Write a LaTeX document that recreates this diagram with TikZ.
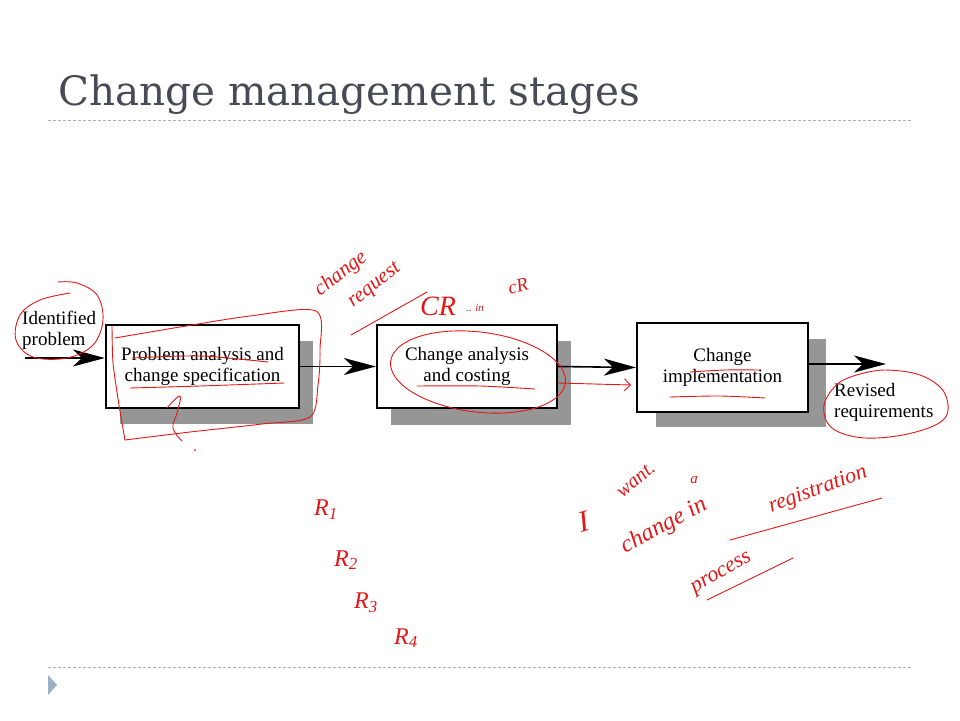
\documentclass[tikz,border=0pt]{standalone}
\usepackage{fontspec}
\setmainfont{Liberation Serif}
\newfontfamily\titlefont{DejaVu Serif}
\usetikzlibrary{arrows.meta}
\definecolor{cmtitle}{RGB}{74, 74, 86}
\definecolor{cmrule}{RGB}{160, 180, 194}
\definecolor{cmbullet}{RGB}{154, 176, 196}
\definecolor{cmshadow}{RGB}{150, 150, 150}
\definecolor{cmink}{RGB}{228, 22, 22}

\begin{document}
\begin{tikzpicture}[x=1pt, y=-1pt,
    stagebox/.style={draw=black, line width=2.2pt, fill=white, align=center,
        inner sep=0pt, font=\fontsize{19}{21}\selectfont},
    flowarrow/.style={line width=1.6pt,
        -{Stealth[length=32pt, width=17pt, inset=9pt]}},
    enditem/.style={align=left, anchor=west, inner sep=0pt,
        font=\fontsize{19}{21}\selectfont},
    ink/.style={draw=cmink, line width=0.9pt, line cap=round, line join=round},
    hand/.style={text=cmink, font=\itshape\fontsize{#1}{#1}\selectfont, inner sep=0pt},
    hand/.default=19
]
\useasboundingbox (0,0) rectangle (960,720);

% === Titel und Linien der Folie ===
\node[anchor=base west, inner sep=0pt, text=cmtitle,
    font=\titlefont\fontsize{40.5}{44}\selectfont] (title) at (58,105) {Change management stages};
\draw[cmrule, line width=0.8pt, dash pattern=on 3pt off 2pt] (48,120) -- (912,120);
\draw[cmrule, line width=0.8pt, dash pattern=on 3pt off 2pt] (48,667) -- (912,667);
\fill[cmbullet] (48,675) -- (57,685) -- (48,695) -- cycle;

% === Stufen (mit Schatten) ===
\fill[cmshadow] (120,341) rectangle (313,424);
\node[stagebox, minimum width=193pt, minimum height=83pt] (analysis) at (202.5,366.5)
    {Problem analysis and\\change specification};
\fill[cmshadow] (391,341) rectangle (571,425);
\node[stagebox, minimum width=180pt, minimum height=83pt] (costing) at (467,366.5)
    {Change analysis\\and costing};
\fill[cmshadow] (656,339) rectangle (826,427);
\node[stagebox, minimum width=171pt, minimum height=89pt] (impl) at (722.5,367.5)
    {Change\\implementation};

% === Ein- und Ausgang ===
\node[enditem] (problem) at (22,330) {Identified\\problem};
\node[enditem] (revised) at (834,402) {Revised\\requirements};
\coordinate (start) at (25,358);
\coordinate (finish) at (886,364);

% === Flussrichtung ===
\draw[flowarrow] (start) -- (start -| analysis.west);
\draw[flowarrow] (analysis.east) -- (costing.west);
\draw[flowarrow] (costing.east) -- (impl.west);
\draw[flowarrow] (impl.east |- finish) -- (finish);

% === Rote Handnotizen ===
% Kreis um "Identified problem"
\draw[ink] plot[smooth, tension=0.6] coordinates {(70,293) (40,300) (20,315) (16,340)
    (33,357) (67,358) (93,345) (103,320) (97,295) (77,283) (58,282)};
% Rahmen um erste Stufe
\draw[ink] plot[smooth, tension=0.4] coordinates {(112,326) (113,363) (119,405) (125,440)};
\draw[ink] plot[smooth, tension=0.5] coordinates {(125,440) (190,432) (262,424) (310,417)
    (318,385) (320,350) (316,311) (250,316) (180,327) (115,338)};
\draw[ink] plot[smooth] coordinates {(132,358) (200,356) (268,362)};
\draw[ink] plot[smooth] coordinates {(130,388) (200,386) (284,383)};
\draw[ink] plot[smooth, tension=0.7] coordinates {(167,408) (180,396) (177,413)
    (173,428) (182,441)};
\fill[cmink] (195,450) circle (1pt);
% change request / CR
\node[hand=21, rotate=38] (creq1) at (341,274) {change};
\node[hand=21, rotate=38] (creq2) at (375,286) {request};
\draw[ink] (351,335) -- (427,292);
\node[hand=28] (cr1) at (438,306) {CR};
\node[hand=11] (cr2) at (475,308) {.. in};
\node[hand=19, rotate=15] (cr3) at (518,286) {cR};
% Ellipse um zweite Stufe
\draw[ink, rotate around={-7:(478,372)}] (478,372) ellipse (88pt and 40pt);
\draw[ink] plot[smooth] coordinates {(417,386) (480,386) (535,389)};
\draw[ink, -{Straight Barb[length=6pt, width=12pt]}] (558,383) -- (631,385);
% dritte Stufe
\draw[ink] plot[smooth] coordinates {(690,372) (725,370) (760,370)};
\draw[ink] plot[smooth] coordinates {(670,397) (720,396) (765,398)};
% Kreis um "Revised requirements"
\draw[ink] plot[smooth, tension=0.6] coordinates {(868,372) (840,382) (824,405)
    (832,428) (865,438) (912,433) (945,418) (944,392) (920,375) (885,370) (860,374)};
% R1..R4
\node[hand=24] (r1) at (326,510) {R\textsubscript{1}};
\node[hand=24] (r2) at (346,560) {R\textsubscript{2}};
\node[hand=24] (r3) at (366,603) {R\textsubscript{3}};
\node[hand=24] (r4) at (406,638) {R\textsubscript{4}};
% I want a change in registration process
\node[hand=30, rotate=15] (iw1) at (584,522) {I};
\node[hand=20, rotate=40] (iw2) at (636,480) {want.};
\node[hand=15] (iw3) at (694,480) {a};
\node[hand=24, rotate=28] (iw4) at (664,526) {change in};
\node[hand=22, rotate=20] (iw5) at (818,490) {registration};
\node[hand=22, rotate=30] (iw6) at (722,574) {process};
\draw[ink] (730,540) -- (882,498);
\draw[ink] (707,600) -- (793,558);

\end{tikzpicture}
\end{document}
